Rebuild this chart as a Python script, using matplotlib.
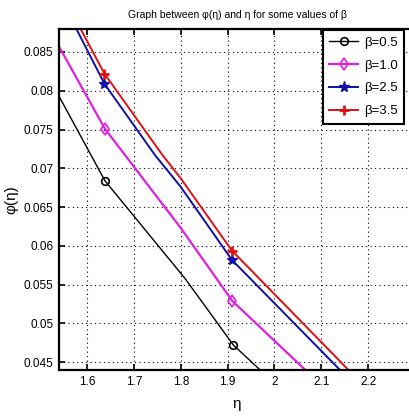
import matplotlib
matplotlib.use("Agg")
import matplotlib.pyplot as plt

# curves (eta, phi)
eta_b05 = [1.54, 1.638, 1.809, 1.9125, 1.9695]
phi_b05 = [0.0793, 0.0684, 0.0558, 0.0472, 0.0440]

eta_b10 = [1.54, 1.638, 1.80, 1.910, 2.066]
phi_b10 = [0.0857, 0.0751, 0.0623, 0.0529, 0.0440]

eta_b25 = [1.576, 1.637, 1.745, 1.80, 1.909, 2.140]
phi_b25 = [0.0881, 0.0809, 0.0717, 0.0676, 0.0582, 0.0440]

eta_b35 = [1.585, 1.637, 1.761, 1.80, 1.909, 2.158]
phi_b35 = [0.0881, 0.0822, 0.0717, 0.0687, 0.0594, 0.0440]

labels = ["β=0.5", "β=1.0", "β=2.5", "β=3.5"]
xticks = [1.6, 1.7, 1.8, 1.9, 2.0, 2.1, 2.2]
xticklabels = ["1.6", "1.7", "1.8", "1.9", "2", "2.1", "2.2"]
yticks = [0.045, 0.05, 0.055, 0.06, 0.065, 0.07, 0.075, 0.08, 0.085]
yticklabels = ["0.045", "0.05", "0.055", "0.06", "0.065", "0.07", "0.075", "0.08", "0.085"]

plt.rcParams["font.family"] = ["Liberation Sans Narrow", "Liberation Sans", "DejaVu Sans"]

fig = plt.figure(figsize=(4.09, 4.19), dpi=100)
ax = fig.add_axes([59 / 409, 49 / 419, 356 / 409, 341.3 / 419])

ax.plot(eta_b05, phi_b05, "-", color="black", lw=1.0, marker="o", ms=5.5,
        mfc="none", mew=1.2, markevery=[1, 3], label=labels[0])
ax.plot(eta_b10, phi_b10, "-", color="#e020e0", lw=1.6, marker="d", ms=6.5,
        mfc="none", mew=1.2, markevery=[1, 3], label=labels[1])
ax.plot(eta_b25, phi_b25, "-", color="#1010a8", lw=1.4, marker="*", ms=8,
        markevery=[1, 4], label=labels[2])
ax.plot(eta_b35, phi_b35, "-", color="#e01010", lw=1.4, marker="+", ms=7,
        mew=2, markevery=[1, 4], label=labels[3])

ax.set_xlim(1.54, 2.3)
ax.set_ylim(0.044, 0.088)
ax.set_xticks(xticks)
ax.set_xticklabels(xticklabels)
ax.set_yticks(yticks)
ax.set_yticklabels(yticklabels)
ax.tick_params(direction="in", top=True, right=True, labelsize=8.5, length=4,
               width=1.2, pad=4)
ax.grid(True, linestyle=(0, (1, 3)), color="black", lw=0.8)
for s in ax.spines.values():
    s.set_linewidth(1.6)

ax.set_xlabel("η", fontsize=11, labelpad=7)
ax.set_ylabel("φ(η)", fontsize=11, labelpad=4)
ax.set_title("Graph between φ(η) and η for some values of β", fontsize=7.5, pad=8)

leg = ax.legend(loc="upper right", bbox_to_anchor=(404 / 409, 389 / 419),
                bbox_transform=fig.transFigure, borderaxespad=0, fontsize=9.5,
                fancybox=False, framealpha=1, edgecolor="black", handlelength=2.2,
                labelspacing=0.8, handletextpad=0.4, borderpad=0.5)
leg.get_frame().set_linewidth(1.5)

fig.savefig("out.png", dpi=100)
